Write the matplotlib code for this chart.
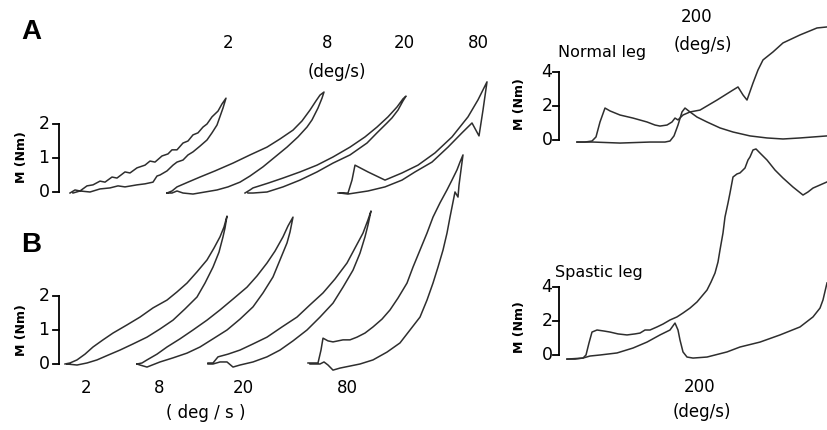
import matplotlib
matplotlib.use("Agg")
import matplotlib.pyplot as plt
import numpy as np

W, H = 827, 430
PX_PER_DEG = 5          # horizontal scale shared by all traces
K_LEFT = 34             # px per Nm, panels A/B left
K_RIGHT = 17            # px per Nm, 200 deg/s traces

# ---- panel A, normal leg: angle (deg) vs torque (Nm), closed loops ----
A2_ANG = [0, 1, 2, 3.4, 4.6, 6, 7, 8.4, 9.4, 11, 12, 13.4, 15, 16, 17, 18.4, 19.6, 20.4, 21.4, 22.6,
          23.6, 24.6, 25.6, 26.6, 27.4, 28.4, 29.6, 30.4, 31.2,
          30.6, 29.4, 28.4, 27.4, 26, 24.6, 23.6, 22.6, 21.4, 20.6, 19.4, 18, 17.4, 16.6, 15, 13.4,
          11, 9.6, 8, 6, 4, 2, 0.6]
A2_M = [-0.03, 0.06, 0.03, 0.18, 0.21, 0.32, 0.29, 0.44, 0.41, 0.59, 0.56, 0.71, 0.79, 0.91, 0.88, 1.06,
        1.12, 1.24, 1.24, 1.44, 1.5, 1.68, 1.74, 1.91, 2.0, 2.21, 2.38, 2.59, 2.76,
        2.47, 1.97, 1.74, 1.53, 1.35, 1.18, 1.09, 0.94, 0.88, 0.79, 0.62, 0.5, 0.47, 0.29, 0.24, 0.21,
        0.15, 0.18, 0.12, 0.09, 0, 0.03, -0.03]

A8_ANG = [0, 1, 2, 4.2, 6.6, 9.6, 13.2, 16.6, 20, 22.6, 25.2, 27, 28.6, 29.8, 30.6, 31.4,
          31, 30.2, 29, 28, 26.2, 24, 21.6, 19.2, 16.6, 14.6, 12.2, 10, 7.6, 5.2, 3.2, 2, 1, 0]
A8_M = [-0.03, 0.03, 0.15, 0.29, 0.44, 0.62, 0.85, 1.09, 1.32, 1.56, 1.82, 2.09, 2.41, 2.68, 2.85, 2.94,
        2.76, 2.47, 2.12, 1.91, 1.62, 1.32, 1.03, 0.74, 0.47, 0.29, 0.15, 0.06, 0, -0.06, -0.03, 0.03, -0.03, -0.03]

A20_ANG = [0, 1, 1.6, 4.6, 7.6, 11, 14.4, 17.6, 21, 24, 26.4, 28.6, 30.4, 31.6, 32.2,
           31.6, 30.6, 29.4, 28.4, 26.4, 24.4, 21, 17.6, 14.4, 11, 7.6, 4.4, 1.6, 0.6]
A20_M = [-0.03, 0.06, 0.12, 0.26, 0.41, 0.59, 0.79, 1.03, 1.32, 1.62, 1.91, 2.21, 2.5, 2.74, 2.82,
         2.68, 2.41, 2.18, 2.03, 1.74, 1.44, 1.09, 0.85, 0.59, 0.35, 0.15, 0, -0.03, -0.03]

A80_ANG = [0, 2, 2.8, 3.4, 6, 9.4, 12.8, 16, 19.4, 22.8, 26, 28, 29.8,
           29, 28.2, 26.8, 24.8, 22, 18.8, 15.4, 12.8, 9.4, 6, 2, 0.4]
A80_M = [-0.03, -0.03, 0.35, 0.79, 0.59, 0.35, 0.56, 0.79, 1.15, 1.62, 2.21, 2.71, 3.24,
         2.41, 1.65, 2.03, 1.74, 1.32, 0.88, 0.59, 0.35, 0.15, 0.03, -0.06, -0.03]

# ---- panel B, spastic leg ----
B2_ANG = [0, 1, 2.4, 4, 5.6, 7.6, 9.6, 12.4, 15, 17.6, 20.4, 22.4, 24.4, 26.4, 28.4, 29.8, 31, 31.8, 32.4,
          32, 31.6, 30.8, 29.6, 28, 26.4, 24, 21.6, 19, 16.4, 13.6, 11, 8.6, 6.4, 4.4, 2.4, 0.4]
B2_M = [0, 0.03, 0.12, 0.29, 0.5, 0.71, 0.91, 1.15, 1.38, 1.65, 1.88, 2.12, 2.38, 2.71, 3.06, 3.41, 3.74, 4.03, 4.35,
        4.0, 3.74, 3.29, 2.85, 2.38, 1.97, 1.62, 1.29, 1.03, 0.79, 0.59, 0.41, 0.26, 0.12, 0.03, -0.03, 0]

B8_ANG = [0, 1, 2, 4, 6, 8.6, 11.2, 14, 16.6, 19.2, 22, 24, 26, 27.6, 29.2, 30.2, 31.2,
          30.6, 30, 28.6, 27.2, 25.2, 23.2, 20.6, 18, 15.2, 12.6, 10, 7.2, 4.6, 2, 0.6, 0]
B8_M = [0, 0.03, 0.12, 0.29, 0.5, 0.74, 1.0, 1.29, 1.59, 1.91, 2.26, 2.59, 2.97, 3.32, 3.74, 4.06, 4.32,
        3.88, 3.56, 3.06, 2.56, 2.09, 1.68, 1.32, 1.0, 0.74, 0.5, 0.32, 0.18, 0.06, -0.09, -0.03, 0]

B20_ANG = [0, 1, 2, 4, 6.4, 9, 11.8, 14.8, 17.8, 20.4, 23, 25.4, 27.8, 29.4, 31, 32, 32.6,
           32, 31.4, 30.4, 29, 27, 25, 22.4, 19.8, 17, 14.4, 11.8, 9, 6.4, 5, 3.8, 2.4, 1, 0]
B20_M = [0.03, 0.03, 0.21, 0.29, 0.41, 0.59, 0.79, 1.09, 1.38, 1.74, 2.09, 2.5, 2.97, 3.41, 3.85, 4.24, 4.5,
         4.09, 3.74, 3.26, 2.76, 2.26, 1.79, 1.38, 1.0, 0.68, 0.41, 0.21, 0.06, -0.03, -0.09, 0.06, 0.06, 0, 0]

B80_ANG = [0, 2, 2.6, 3, 4, 5, 7, 8.4, 9.8, 11.4, 13, 14.8, 16.4, 18, 19.8, 21, 22.4, 23.8, 25, 26.4,
           27.8, 28.8, 29.8, 30.4, 31, 30.6, 30.2, 30, 29.4, 28.4, 27.8, 27, 26, 25, 23.8, 22.4, 20.4,
           18.4, 15.8, 13, 10.4, 8.4, 6.4, 5, 4, 3.2, 2.4, 0.4]
B80_M = [0.03, 0.03, 0.41, 0.76, 0.68, 0.65, 0.71, 0.71, 0.79, 0.91, 1.09, 1.32, 1.59, 1.94, 2.38, 2.85,
         3.35, 3.85, 4.32, 4.74, 5.12, 5.41, 5.71, 5.94, 6.15, 5.71, 5.26, 4.91, 5.06, 4.32, 3.85, 3.35,
         2.85, 2.38, 1.88, 1.38, 1.0, 0.62, 0.35, 0.12, 0, -0.06, -0.12, -0.18, -0.03, 0.06, 0, 0]

# ---- 200 deg/s traces ----
NORM_A_ANG = [0, 1.6, 3, 3.8, 4.6, 5.6, 6.6, 8.6, 11.2, 14, 15.6, 16.6, 18, 19, 19.6, 20.2, 21.2, 22.6,
              24.6, 28, 31.2, 32.2, 33.2, 34, 35.2, 36.2, 37.2, 39.2, 41.2, 44.6, 48, 50]
NORM_A_M = [-0.12, -0.12, -0.06, 0.18, 1.06, 1.88, 1.71, 1.47, 1.29, 1.06, 0.88, 0.82, 0.88, 1.06, 1.29,
            1.18, 1.47, 1.65, 1.76, 2.35, 2.94, 3.12, 2.65, 2.35, 3.35, 4.12, 4.71, 5.18, 5.71, 6.18, 6.59, 6.65]
NORM_B_ANG = [0, 3.2, 8.6, 14.6, 17.6, 18.6, 19.4, 20.2, 21, 21.6, 22.6, 24, 26, 28.6, 31.2, 34.6, 38,
              41.2, 44.6, 50]
NORM_B_M = [-0.12, -0.12, -0.18, -0.12, -0.12, -0.06, 0.24, 0.88, 1.65, 1.88, 1.65, 1.35, 1.06, 0.71,
            0.47, 0.24, 0.12, 0.06, 0.12, 0.24]

SPAS_A_ANG = [0, 1.6, 3.2, 3.8, 4.4, 5, 6, 7.4, 8.6, 10.2, 12, 13.6, 14.6, 15.6, 16.6, 18, 19.2, 20.6,
              22, 23.2, 24.6, 26, 27, 28, 28.8, 29.6, 30.2, 30.6, 31.2, 31.6, 32.2, 32.6, 33.2, 34, 34.6,
              35.6, 36.2, 36.6, 37.2, 37.8, 38.6, 40, 41.6, 43.2, 45.2, 47.2, 48.2, 49.2, 50.6, 52]
SPAS_A_M = [-0.24, -0.24, -0.18, 0, 0.71, 1.35, 1.47, 1.41, 1.35, 1.24, 1.18, 1.24, 1.29, 1.47, 1.47, 1.65,
            1.82, 2.06, 2.24, 2.47, 2.76, 3.12, 3.47, 3.82, 4.29, 4.82, 5.47, 6.18, 7.18, 8.12, 8.94, 9.53,
            10.47, 10.65, 10.71, 11.0, 11.47, 11.65, 12.06, 12.12, 11.88, 11.47, 10.88, 10.41, 9.88, 9.41,
            9.59, 9.82, 10.0, 10.18]
SPAS_B_ANG = [0, 3.2, 4.6, 6.6, 10, 13.2, 16, 18.6, 20.6, 21.6, 22.2, 22.6, 23.2, 24, 25.2, 28, 32, 34.6,
              38.6, 42.6, 46.6, 49.2, 50.6, 51.2, 52]
SPAS_B_M = [-0.24, -0.18, -0.06, 0, 0.12, 0.41, 0.76, 1.18, 1.47, 1.88, 1.47, 0.88, 0.18, -0.12, -0.18,
            -0.12, 0.18, 0.47, 0.76, 1.18, 1.65, 2.24, 2.76, 3.24, 4.24]

SPEEDS = ["2", "8", "20", "80"]

LINE = "#2e2e2e"
LW = 1.1
FONT = "DejaVu Sans"

fig = plt.figure(figsize=(W / 100, H / 100), dpi=100)
fig.patch.set_facecolor("white")


def panel(y0_px, k):
    # transparent axes over the whole figure; torque 0 sits at pixel row y0_px
    ax = fig.add_axes([0, 0, 1, 1])
    ax.set_xlim(0, W / PX_PER_DEG)
    ax.set_ylim((y0_px - H) / k, y0_px / k)
    ax.axis("off")
    ax.patch.set_alpha(0)
    return ax


def trace(ax, start_px, ang, m):
    ax.plot(start_px / PX_PER_DEG + np.asarray(ang), m, color=LINE, lw=LW,
            solid_joinstyle="round")


def scale_bar(ax, bar_px, ticks, label_px):
    bx = bar_px / PX_PER_DEG
    tk = 6 / PX_PER_DEG
    ax.plot([bx, bx], [ticks[0], ticks[-1]], color="black", lw=1.3, solid_capstyle="projecting")
    for t in ticks:
        ax.plot([bx - tk, bx], [t, t], color="black", lw=1.3)
        ax.text(label_px / PX_PER_DEG, t, f"{t:g}", ha="center", va="center",
                fontsize=12.5, family=FONT)


def ftext(x, y, s, **kw):
    kw.setdefault("family", FONT)
    kw.setdefault("fontsize", 12)
    fig.text(x / W, 1 - y / H, s, ha="center", va="center", **kw)


# panel A, left
axA = panel(192, K_LEFT)
for start, ang, m in [(70, A2_ANG, A2_M), (167, A8_ANG, A8_M),
                      (245, A20_ANG, A20_M), (338, A80_ANG, A80_M)]:
    trace(axA, start, ang, m)
scale_bar(axA, 59, [0, 1, 2], 44)

# panel B, left
axB = panel(364, K_LEFT)
for start, ang, m in [(65, B2_ANG, B2_M), (137, B8_ANG, B8_M),
                      (208, B20_ANG, B20_M), (308, B80_ANG, B80_M)]:
    trace(axB, start, ang, m)
scale_bar(axB, 59, [0, 1, 2], 44)

# normal leg 200 deg/s
axN = panel(140, K_RIGHT)
trace(axN, 577, NORM_A_ANG, NORM_A_M)
trace(axN, 577, NORM_B_ANG, NORM_B_M)
scale_bar(axN, 559, [0, 2, 4], 547)

# spastic leg 200 deg/s
axS = panel(355, K_RIGHT)
trace(axS, 567, SPAS_A_ANG, SPAS_A_M)
trace(axS, 567, SPAS_B_ANG, SPAS_B_M)
scale_bar(axS, 559, [0, 2, 4], 547)

# labels
ftext(31, 32, "A", fontsize=20, fontweight="bold", family="Liberation Sans")
ftext(31, 245, "B", fontsize=20, fontweight="bold", family="Liberation Sans")
for x, s in zip([228, 327, 404, 478], SPEEDS):
    ftext(x, 43, s)
ftext(337, 72, "(deg/s)")
for x, s in zip([86, 159, 243, 347], SPEEDS):
    ftext(x, 388, s)
ftext(206, 413, "( deg / s )")

for x, y in [(22, 157), (22, 330), (520, 104), (520, 327)]:
    ftext(x, y, "M (Nm)", fontsize=9, fontweight="bold", rotation=90)

ftext(602, 52, "Normal leg", fontsize=11.5)
ftext(697, 17, "200")
ftext(703, 45, "(deg/s)")
ftext(599, 273, "Spastic leg", fontsize=11.5)
ftext(700, 387, "200")
ftext(702, 412, "(deg/s)")

fig.savefig("out.png", dpi=100, facecolor="white")
